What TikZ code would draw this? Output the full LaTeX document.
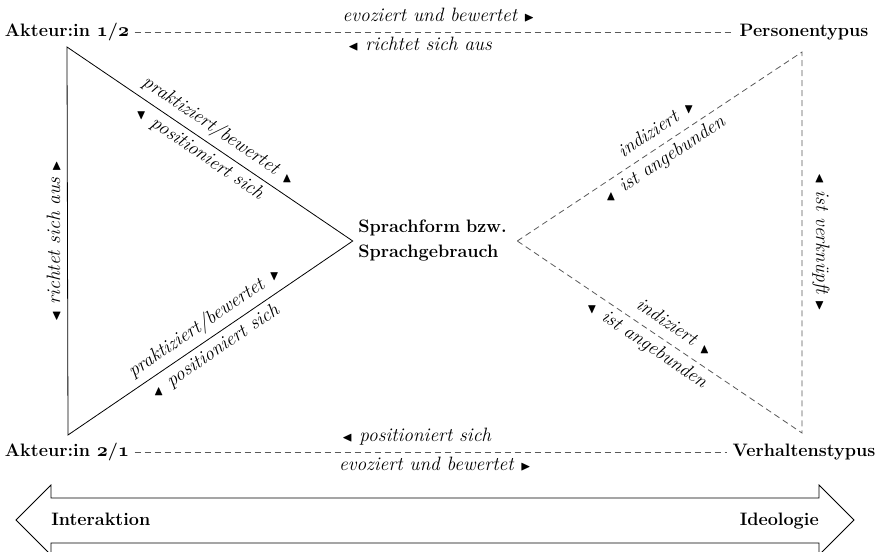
\documentclass[tikz,border=0pt]{standalone}
\usepackage{amssymb}
\usepackage{graphicx}
\usetikzlibrary{positioning}

\newcommand{\trL}{$\scriptstyle\blacktriangleleft$}
\newcommand{\trR}{$\scriptstyle\blacktriangleright$}
\newcommand{\trUp}[1]{\rotatebox[origin=c]{#1}{$\scriptstyle\blacktriangle$}}
\newcommand{\trDn}[1]{\rotatebox[origin=c]{#1}{$\scriptstyle\blacktriangledown$}}
\newcommand{\osf}[1]{{\usefont{OML}{cmm}{b}{it}#1}}

\tikzset{
  term/.style={font=\fontsize{13.5}{18.75}\selectfont\bfseries, inner sep=4pt},
  head/.style={term, text height=10pt, text depth=3pt},
  rel/.style={font=\fontsize{14.5}{17}\selectfont\itshape, inner sep=0pt},
  over/.style={rel, sloped, anchor=base, yshift=8pt},
  under/.style={rel, sloped, anchor=base, yshift=-14pt},
  solidline/.style={draw, line width=0.6pt},
  dashline/.style={draw=black!65, line width=0.6pt, dash pattern=on 4.5pt off 3pt},
}

\begin{document}
\begin{tikzpicture}[x=0.75pt, y=-0.75pt]
\useasboundingbox (0,0) rectangle (884,552);

\node[head] (akt1) at (67,32) {Akteur:in \osf{1}/\osf{2}};
\node[head] (akt2) at (67,452) {Akteur:in \osf{2}/\osf{1}};
\node[head] (pers) at (804,32) {Personentypus};
\node[head] (verh) at (804,452) {Verhaltenstypus};
\node[term, text width=115pt, align=left] (form) at (435,241) {Sprachform bzw.\\Sprachgebrauch};

\coordinate (a1) at (67,47);
\coordinate (a2) at (68,435);
\coordinate (p) at (802,52);
\coordinate (v) at (802,433);

\draw[solidline] (a1) -- (form.west) -- (a2) -- cycle;
\draw[dashline] (form.east) -- (p) -- (v) -- cycle;

\path (a1) -- (form.west)
  node[over, pos=0.50] {praktiziert/bewertet \trUp{34}}
  node[under, pos=0.49] {\trDn{34} positioniert sich};
\path (a2) -- (form.west)
  node[over, pos=0.51] {praktiziert/bewertet \trDn{-34}}
  node[under, pos=0.49] {\trUp{-34} positioniert sich};
\path (a2) -- (a1)
  node[rel, rotate=90, anchor=base, yshift=5.5pt, pos=0.5] {\trL\ richtet sich aus \trR};
\path (p) -- (v)
  node[rel, rotate=-90, anchor=base, yshift=10.5pt, pos=0.5] {\trL\ ist verknüpft \trR};
\path (form.east) -- (p)
  node[over, pos=0.52] {indiziert \trDn{-34}}
  node[under, pos=0.49] {\trUp{-34} ist angebunden};
\path (form.east) -- (v)
  node[over, pos=0.52] {indiziert \trUp{34}}
  node[under, pos=0.48] {\trDn{34} ist angebunden};

\draw[dashline] (akt1) -- (pers)
  node[over, pos=0.507] {evoziert und bewertet \trR}
  node[under, pos=0.476] {\trL\ richtet sich aus};
\draw[dashline] (akt2) -- (verh)
  node[over, pos=0.476] {\trL\ positioniert sich}
  node[under, pos=0.507] {evoziert und bewertet \trR};

\draw[solidline] (16,520) -- (51,485) -- (51,498) -- (819,498) -- (819,485) -- (854,520)
  -- (819,555) -- (819,543) -- (51,543) -- (51,555) -- cycle;
\node[term, anchor=base west, inner sep=0pt] (inter) at (51,525) {Interaktion};
\node[term, anchor=base east, inner sep=0pt] (ideo) at (819,525) {Ideologie};

\end{tikzpicture}
\end{document}
